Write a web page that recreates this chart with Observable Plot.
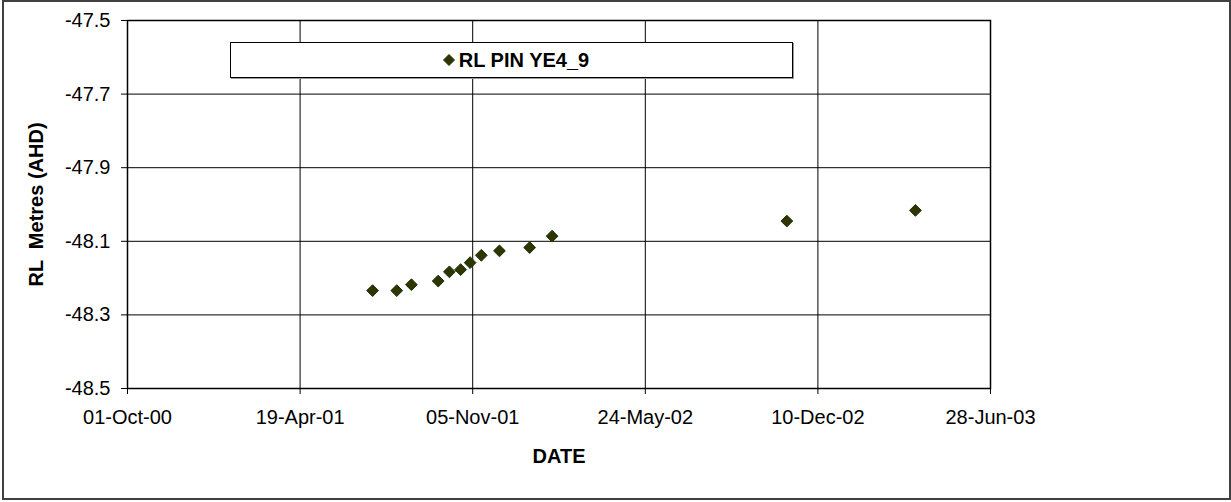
<!DOCTYPE html>
<html><head><meta charset="utf-8">
<script src="https://cdn.jsdelivr.net/npm/d3@7"></script>
<script src="https://cdn.jsdelivr.net/npm/@observablehq/plot@0.6"></script>
<style>
body{margin:0;background:#fff;}
#wrap{position:relative;width:1231px;height:502px;font-family:"Liberation Sans",Arial,sans-serif;}
#border{position:absolute;left:2px;top:0px;width:1225px;height:496px;border:2px solid #404040;pointer-events:none;}
#legend{position:absolute;left:230px;top:42px;width:561px;height:34px;border:1px solid #000;box-shadow:1px 1px 0 #999;background:#fff;display:flex;align-items:center;justify-content:center;font-weight:bold;font-size:20px;color:#000;}
#legend svg{margin-right:3px;margin-left:8px;}
g[aria-label="x-axis label"] text, g[aria-label="y-axis label"] text{font-weight:bold;white-space:pre;}
</style>
</head><body>
<div id="wrap"><div id="chart"></div><div id="legend"></div><div id="border"></div></div>
<script>
// Data
const seriesName = "RL PIN YE4_9";
const dates = ["2001-07-12","2001-08-09","2001-08-26","2001-09-26","2001-10-09","2001-10-22","2001-11-02","2001-11-15","2001-12-06","2002-01-10","2002-02-05","2002-11-04","2003-04-02"];
const rl = [-48.234,-48.234,-48.218,-48.208,-48.183,-48.177,-48.158,-48.138,-48.126,-48.117,-48.086,-48.045,-48.016];
const xTickDates = ["2000-10-01","2001-04-19","2001-11-05","2002-05-24","2002-12-10","2003-06-28"];
const yTicks = [-47.5,-47.7,-47.9,-48.1,-48.3,-48.5];

const xTicks = xTickDates.map(d => new Date(d + "T00:00:00Z"));
const data = dates.map((d, i) => ({date: new Date(d + "T00:00:00Z"), rl: rl[i]}));
const fmt = d3.utcFormat("%d-%b-%y");
const markerFill = "#333300", markerStroke = "#0b3b0b";

const chart = Plot.plot({
  width: 1231, height: 502,
  marginLeft: 127, marginTop: 20, marginRight: 241, marginBottom: 114,
  style: {fontFamily: "'Liberation Sans', Arial, sans-serif", fontSize: "20px", color: "#000", background: "transparent"},
  x: {type: "utc", domain: [xTicks[0], xTicks[xTicks.length - 1]]},
  y: {domain: [d3.min(yTicks), d3.max(yTicks)]},
  marks: [
    Plot.gridX(xTicks, {stroke: "#000", strokeOpacity: 1}),
    Plot.gridY(yTicks, {stroke: "#000", strokeOpacity: 1}),
    Plot.frame({stroke: "#000", strokeWidth: 1.5}),
    Plot.axisX(xTicks, {tickSize: 6, tickPadding: 15, tickFormat: fmt, label: "DATE", labelAnchor: "center", labelArrow: "none", labelOffset: 74}),
    Plot.axisY(yTicks, {tickSize: 6, tickPadding: 11, tickFormat: d => d.toFixed(1), label: "RL  Metres (AHD)", labelAnchor: "center", labelArrow: "none", labelOffset: 99}),
    Plot.dot(data, {x: "date", y: "rl", symbol: "diamond2", r: 5.3, fill: markerFill, stroke: markerStroke, strokeWidth: 1})
  ]
});
document.getElementById("chart").appendChild(chart);

const leg = document.getElementById("legend");
leg.innerHTML = `<svg width="14" height="14" viewBox="-7 -7 14 14"><path d="M0,-5.5L5.5,0L0,5.5L-5.5,0Z" fill="${markerFill}" stroke="${markerStroke}"/></svg><span>${seriesName}</span>`;
</script>
</body></html>
